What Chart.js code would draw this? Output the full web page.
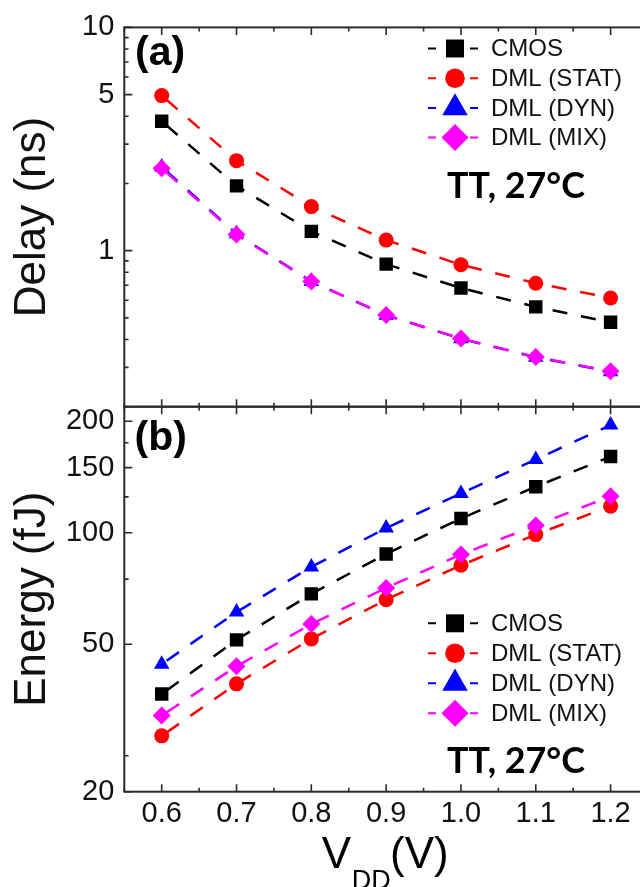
<!DOCTYPE html>
<html>
<head>
<meta charset="utf-8">
<script src="https://cdn.jsdelivr.net/npm/chart.js@4.4.1/dist/chart.umd.min.js"></script>
<style>
  html, body { margin: 0; padding: 0; background: #fff; overflow: hidden; }
  #wrap { position: relative; width: 640px; height: 887px; overflow: hidden; }
  #wrap canvas { position: absolute; left: 0; top: 0; }
</style>
</head>
<body>
<div id="wrap">
  <canvas id="delayChart" width="660" height="887"></canvas>
  <canvas id="energyChart" width="660" height="887"></canvas>
</div>
<script>
// supply voltage sweep (V)
const vdd = [0.6, 0.7, 0.8, 0.9, 1.0, 1.1, 1.2];

// (a) delay in ns
const delayCmos = [3.80, 1.95, 1.22, 0.87, 0.68, 0.56, 0.478];
const delayStat = [4.95, 2.53, 1.575, 1.115, 0.865, 0.715, 0.614];
const delayDyn  = [2.37, 1.19, 0.728, 0.514, 0.403, 0.333, 0.287];
const delayMix  = [2.34, 1.18, 0.727, 0.515, 0.404, 0.334, 0.288];

// (b) energy in fJ
const energyCmos = [36.7, 51.4, 68.4, 87.7, 109.3, 133.2, 160.6];
const energyStat = [28.3, 39.1, 51.7, 66.0, 81.7, 98.9, 118.0];
const energyDyn  = [44.2, 61.1, 80.9, 103.0, 127.7, 157.8, 195.4];
const energyMix  = [32.1, 43.6, 56.7, 71.0, 87.4, 104.6, 125.6];

const seriesNames = ['CMOS', 'DML (STAT)', 'DML (DYN)', 'DML (MIX)'];

// tick positions and which of them carry a label
const xTickVals = [0.55, 0.6, 0.65, 0.7, 0.75, 0.8, 0.85, 0.9, 0.95, 1.0, 1.05, 1.1, 1.15, 1.2, 1.25];
const delayTicks = [0.2, 0.3, 0.4, 0.5, 0.6, 0.7, 0.8, 0.9, 1, 2, 3, 4, 5, 6, 7, 8, 9, 10];
const delayLabels = [1, 5, 10];
const energyTicks = [20, 25, 50, 75, 100, 125, 150, 175, 200];
const energyLabels = [20, 50, 100, 150, 200];

const FONT = "'Liberation Sans', Arial, sans-serif";
const INK = '#111';
const FRAME = '#2b2b2b';

const styles = [
  { color: '#000000', point: 'rect',     r: 9.5, lr: 12.7 },
  { color: '#ff0000', point: 'circle',   r: 7.5, lr: 9.8 },
  { color: '#0000ff', point: 'triangle', r: 9,   lr: 14.7 },
  { color: '#ff00ff', point: 'rectRot',  r: 9,   lr: 13.5 }
];

function makeSets(values) {
  return values.map((vals, i) => ({
    label: seriesNames[i],
    data: vdd.map((v, k) => ({ x: v, y: vals[k] })),
    borderColor: styles[i].color,
    backgroundColor: styles[i].color,
    borderWidth: 2.5,
    borderDash: [15, 14],
    borderDashOffset: -6,
    pointStyle: styles[i].point,
    pointRadius: styles[i].r,
    pointHoverRadius: styles[i].r,
    pointBorderWidth: 0,
    legendRadius: styles[i].lr,
    order: 3 - i
  }));
}

// box around the plot area plus inward tick marks on every edge
const frameTicks = {
  id: 'frameTicks',
  afterDatasetsDraw(chart) {
    const { ctx, chartArea: a, scales } = chart;
    const xs = scales.x, ys = scales.y;
    const xMajor = v => vdd.some(m => Math.abs(m - v) < 1e-6);
    const yMajor = chart.options.plugins.frameTicks.yMajor;
    ctx.save();
    ctx.strokeStyle = FRAME;
    ctx.lineWidth = 1.6;
    ctx.beginPath();
    xs.ticks.forEach(t => {
      const px = xs.getPixelForValue(t.value);
      const len = xMajor(t.value) ? 7.5 : 4;
      ctx.moveTo(px, a.top); ctx.lineTo(px, a.top + len);
      ctx.moveTo(px, a.bottom); ctx.lineTo(px, a.bottom - len);
    });
    ys.ticks.forEach(t => {
      const py = ys.getPixelForValue(t.value);
      const len = yMajor.includes(t.value) ? 8 : 4.3;
      ctx.moveTo(a.left, py); ctx.lineTo(a.left + len, py);
      ctx.moveTo(a.right, py); ctx.lineTo(a.right - len, py);
    });
    ctx.stroke();
    ctx.lineWidth = 2;
    ctx.strokeRect(a.left, a.top, a.right - a.left, a.bottom - a.top);
    ctx.restore();
  }
};

// legend drawn inside the plot area from the dataset styles
const inlineLegend = {
  id: 'inlineLegend',
  afterDatasetsDraw(chart, args, opts) {
    const ctx = chart.ctx;
    chart.data.datasets.forEach((ds, i) => {
      const y = opts.top + i * opts.gap;
      ctx.save();
      ctx.strokeStyle = ds.borderColor;
      ctx.lineWidth = 2;
      ctx.beginPath();
      ctx.moveTo(opts.x - 27, y); ctx.lineTo(opts.x - 19, y);
      ctx.moveTo(opts.x + 15, y); ctx.lineTo(opts.x + 23, y);
      ctx.stroke();
      ctx.fillStyle = ds.backgroundColor;
      Chart.helpers.drawPoint(ctx, { pointStyle: ds.pointStyle, radius: ds.legendRadius, borderWidth: 0, rotation: 0 }, opts.x, y);
      ctx.fillStyle = INK;
      ctx.font = '24px ' + FONT;
      ctx.textBaseline = 'middle';
      ctx.textAlign = 'left';
      ctx.fillText(ds.label, opts.x + 36, y + 1);
      ctx.restore();
    });
  }
};

// free text: panel tags, corner condition, x axis title with subscript
const freeText = {
  id: 'freeText',
  afterDraw(chart, args, opts) {
    const ctx = chart.ctx;
    ctx.save();
    ctx.fillStyle = '#000';
    ctx.textBaseline = 'alphabetic';
    ctx.textAlign = 'left';
    (opts.items || []).forEach(it => {
      ctx.font = it.font;
      if (it.width) {
        const w = ctx.measureText(it.text).width;
        ctx.save();
        ctx.translate(it.x, it.y);
        ctx.scale(it.width / w, 1);
        ctx.fillText(it.text, 0, 0);
        ctx.restore();
      } else {
        ctx.fillText(it.text, it.x, it.y);
      }
    });
    ctx.restore();
  }
};

function yScale(min, max, ticks, labels, title, titleNudge) {
  return {
    type: 'logarithmic',
    min: min,
    max: max,
    afterBuildTicks: s => { s.ticks = ticks.map(v => ({ value: v })); },
    afterFit: s => { s.width = 124.3; },
    grid: { display: false, drawTicks: false },
    border: { display: false },
    ticks: {
      autoSkip: false,
      padding: 10,
      color: INK,
      font: { family: FONT, size: 29 },
      callback: v => labels.includes(v) ? String(v) : ''
    },
    title: {
      display: true,
      text: title,
      color: INK,
      font: { family: FONT, size: 44 },
      padding: { top: titleNudge, bottom: 0 }
    }
  };
}

function xScale(show) {
  const s = {
    type: 'linear',
    display: show,
    min: 0.55,
    max: 1.25,
    afterBuildTicks: sc => { sc.ticks = xTickVals.map(v => ({ value: v })); },
    grid: { display: false, drawTicks: false },
    border: { display: false },
    ticks: {
      autoSkip: false,
      maxRotation: 0,
      padding: 5,
      color: INK,
      font: { family: FONT, size: 29 },
      callback: v => vdd.some(m => Math.abs(m - v) < 1e-6) ? v.toFixed(1) : ''
    }
  };
  if (show) s.afterFit = sc => { sc.height = 95.3; };
  return s;
}

const common = {
  responsive: false,
  animation: false,
  events: []
};

new Chart(document.getElementById('delayChart'), {
  type: 'line',
  data: { datasets: makeSets([delayCmos, delayStat, delayDyn, delayMix]) },
  options: Object.assign({}, common, {
    layout: { padding: { top: 21.7, bottom: 887 - 406.7, left: 0, right: 12 } },
    scales: { x: xScale(false), y: yScale(0.2, 10, delayTicks, delayLabels, 'Delay (ns)', 6) },
    plugins: {
      legend: { display: false },
      tooltip: { enabled: false },
      frameTicks: { yMajor: delayLabels },
      inlineLegend: { x: 455, top: 48.5, gap: 29.7 },
      freeText: { items: [
        { text: '(a)', x: 135, y: 65, font: 'bold 41px ' + FONT },
        { text: 'TT, 27°C', x: 447, y: 198.3, font: 'bold 37px Lato', width: 138 }
      ] }
    }
  }),
  plugins: [frameTicks, inlineLegend, freeText]
});

new Chart(document.getElementById('energyChart'), {
  type: 'line',
  data: { datasets: makeSets([energyCmos, energyStat, energyDyn, energyMix]) },
  options: Object.assign({}, common, {
    layout: { padding: { top: 406.7, bottom: 0, left: 0, right: 12 } },
    scales: { x: xScale(true), y: yScale(20, 219, energyTicks, energyLabels, 'Energy (fJ)', 6) },
    plugins: {
      legend: { display: false },
      tooltip: { enabled: false },
      frameTicks: { yMajor: energyLabels },
      inlineLegend: { x: 455, top: 623.3, gap: 30 },
      freeText: { items: [
        { text: '(b)', x: 134.5, y: 450, font: 'bold 41px ' + FONT },
        { text: 'TT, 27°C', x: 447, y: 773.3, font: 'bold 37px Lato', width: 138 },
        { text: 'V', x: 321.7, y: 868.3, font: '44px ' + FONT },
        { text: 'DD', x: 351.7, y: 889, font: '27px ' + FONT },
        { text: '(V)', x: 390, y: 868.3, font: '44px ' + FONT }
      ] }
    }
  }),
  plugins: [frameTicks, inlineLegend, freeText]
});
</script>
</body>
</html>
